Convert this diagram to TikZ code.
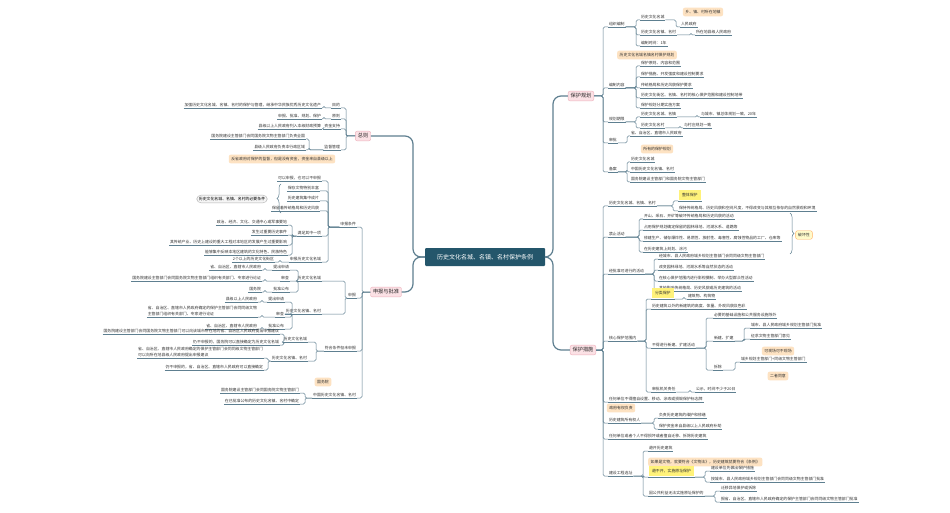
\documentclass[tikz,border=0pt]{standalone}
\usepackage{fontspec}
\setmainfont{Noto Sans CJK SC}
\usetikzlibrary{calc,decorations.pathreplacing}
\definecolor{lnc}{HTML}{5E7F90}
\definecolor{ctr}{HTML}{24566B}
\definecolor{pk}{HTML}{FBE1E5}
\definecolor{pkd}{HTML}{EFB3BE}
\definecolor{org}{HTML}{FDE2C2}
\definecolor{yel}{HTML}{FFF27A}
\tikzset{
 it/.style={font=\fontsize{3.9}{4.6}\selectfont,inner sep=0.8pt,text=black!80},
 ln/.style={draw=lnc,line width=0.5pt,rounded corners=1.5pt},
 main/.style={draw=lnc,line width=1.2pt,rounded corners=8pt},
 br/.style={fill=pk,draw=pkd,rounded corners=2pt,font=\fontsize{5.2}{6}\selectfont,inner sep=2.5pt,text=black!85},
 co/.style={fill=org,rounded corners=2pt,font=\fontsize{3.9}{4.6}\selectfont,inner sep=2.5pt,text=black!80},
}
\newcommand\itR[4]{\node[it,anchor=south west] (#1) at (#2,#3) {#4}; \draw[ln] (#1.south west)--(#1.south east);}
\newcommand\itL[4]{\node[it,anchor=south east] (#1) at (#2,#3) {#4}; \draw[ln] (#1.south west)--(#1.south east);}
\newcommand\conR[3]{\draw[ln] let \p1=(#1) in (\p1) -- (#3pt,\y1) |- (#2.south west);}
\newcommand\conL[3]{\draw[ln] let \p1=(#1) in (\p1) -- (#3pt,\y1) |- (#2.south east);}
\begin{document}
\begin{tikzpicture}[x=1pt,y=-1pt]
\useasboundingbox (0,0) rectangle (950,513);
\fill[white] (0,0) rectangle (950,513);
% center and branches
\node[fill=ctr,text=white,minimum width=120pt,minimum height=18pt,font=\fontsize{6}{7}\selectfont,rounded corners=1pt] (root) at (485,257) {历史文化名城、名镇、名村保护条例};
\node[br] (gh) at (581,96) {保护规划};
\node[br] (bh) at (583,350) {保护措施};
\node[br] (zz) at (363,136) {总则};
\node[br] (sb) at (386,292) {申报与批准};
\draw[main] (root.east) -- (553,257) |- (gh.west);
\draw[main] (root.east) -- (553,257) |- (bh.west);
\draw[main] (root.west) -- (413,257) |- (zz.east);
\draw[main] (root.west) -- (413,257) |- (sb.east);

% ===== 保护规划
\itR{a1}{608}{27}{组织编制}
\itR{a2}{608}{88}{编制内容}
\itR{a3}{608}{122}{规划期限}
\itR{a4}{608}{143}{审批}
\itR{a5}{608}{172}{备案}
\foreach \c in {a1,a2,a3,a4,a5}{\conR{gh.east}{\c}{603}}
\itR{a11}{640}{20}{历史文化名城}
\itR{a111}{680}{27}{人民政府}
\node[co] (c1) at (703,12) {乡、镇、村所在地镇};
\itR{a12}{640}{35}{历史文化名镇、名村}
\itR{a121}{695}{35}{所在地县级人民政府}
\itR{a13}{640}{46}{编制时间：1年}
\foreach \c in {a11,a12,a13}{\conR{a1.south east}{\c}{636}}
\conR{a11.south east}{a111}{676}
\conR{a12.south east}{a121}{691}
\node[co] (c2) at (647,55) {历史文化名城名镇名村保护规划};
\itR{a21}{640}{66}{保护原则、内容和范围}
\itR{a22}{640}{77}{保护措施、开发强度和建设控制要求}
\itR{a23}{640}{88}{传统格局和历史风貌保护要求}
\itR{a24}{640}{98}{历史文化街区、名镇、名村的核心保护范围和建设控制地带}
\itR{a25}{640}{108}{保护规划分期实施方案}
\foreach \c in {a21,a22,a23,a24,a25}{\conR{a2.south east}{\c}{636}}
\itR{a31}{640}{117}{历史文化名城、名镇}
\itR{a311}{700}{117}{与城市、镇总体规划一致，20年}
\itR{a32}{640}{128}{历史文化名村}
\itR{a321}{683}{128}{与村庄规划一致}
\foreach \c in {a31,a32}{\conR{a3.south east}{\c}{636}}
\conR{a31.south east}{a311}{697}
\conR{a32.south east}{a321}{680}
\itR{a41}{630}{136}{省、自治区、直辖市人民政府}
\conR{a4.south east}{a41}{627}
\node[co] (c3) at (657,149) {所有的保护规划};
\itR{a51}{630}{162}{历史文化名城}
\itR{a52}{630}{172}{中国历史文化名镇、名村}
\itR{a53}{630}{182}{国务院建设主管部门和国务院文物主管部门}
\foreach \c in {a51,a52,a53}{\conR{a5.south east}{\c}{627}}

% ===== 保护措施
\itR{b1}{608}{206}{历史文化名城、名镇、名村}
\itR{b2}{608}{237}{禁止活动}
\itR{b3}{608}{274}{经批准可进行的活动}
\itR{b4}{608}{341}{核心保护范围内}
\itR{b5}{608}{402}{任何单位不得擅自设置、移动、涂改或损毁保护标志牌}
\itR{b6}{608}{423}{历史建筑所有权人}
\itR{b7}{608}{439}{任何单位或者个人不得损坏或者擅自迁移、拆除历史建筑}
\itR{b8}{608}{476}{建设工程选址}
\foreach \c in {b1,b2,b3,b4,b5,b6,b7,b8}{\conR{bh.east}{\c}{603}}
\itR{b11}{678}{201}{\colorbox{yel}{整体保护}}
\itR{b12}{678}{211}{保持传统格局、历史风貌和空间尺度，不得改变与其相互依存的自然景观和环境}
\foreach \c in {b11,b12}{\conR{b1.south east}{\c}{673}}
\itR{b21}{643}{219}{开山、采石、开矿等破坏传统格局和历史风貌的活动}
\itR{b22}{643}{230}{占用保护规划确定保留的园林绿地、河湖水系、道路等}
\itR{b23}{643}{241}{修建生产、储存爆炸性、易燃性、放射性、毒害性、腐蚀性物品的工厂、仓库等}
\itR{b24}{643}{252}{在历史建筑上刻划、涂污}
\foreach \c in {b21,b22,b23,b24}{\conR{b2.south east}{\c}{639}}
\draw[lnc,line width=0.5pt,decorate,decoration={brace,amplitude=4pt}] (790,213) -- (790,254);
\node[co,fill=yel!40,draw=orange!60] (c4) at (804,235) {破坏性};
\itR{b31}{658}{259}{经城市、县人民政府城乡规划主管部门会同同级文物主管部门}
\itR{b32}{658}{270}{改变园林绿地、河湖水系等自然状态的活动}
\itR{b33}{658}{281}{在核心保护范围内进行影视摄制、举办大型群众性活动}
\itR{b34}{658}{291}{其他影响传统格局、历史风貌或历史建筑的活动}
\foreach \c in {b31,b32,b33,b34}{\conR{b3.south east}{\c}{654}}
\itR{b41}{651}{299}{\colorbox{yel}{分类保护}}
\itR{b411}{687}{299}{建筑物、构筑物}
\conR{b41.south east}{b411}{684}
\itR{b42}{651}{309}{历史建筑以外的新建筑的高度、体量、外观风貌及色彩}
\itR{b43}{651}{348}{不得进行新建、扩建活动}
\itR{b44}{651}{392}{审批机关责任}
\itR{b441}{695}{392}{公示，时间不少于20日}
\conR{b44.south east}{b441}{690}
\foreach \c in {b41,b42,b43,b44}{\conR{b4.south east}{\c}{646}}
\itR{b431}{713}{318}{必要的基础设施和公共服务设施除外}
\itR{b432}{713}{341}{新建、扩建}
\itR{b433}{713}{370}{拆除}
\foreach \c in {b431,b432,b433}{\conR{b43.south east}{\c}{706}}
\itR{b4321}{750}{328}{城市、县人民政府城乡规划主管部门批准}
\itR{b4322}{750}{339}{征求文物主管部门意见}
\foreach \c in {b4321,b4322}{\conR{b432.south east}{\c}{744}}
\node[co] (c5) at (778,351) {可现场可不现场};
\itR{b4331}{740}{362}{城乡规划主管部门+同级文物主管部门}
\conR{b433.south east}{b4331}{735}
\node[co] (c6) at (778,376) {二者同意};
\node[co] (c7) at (621,408) {政府有权负责};
\itR{b61}{658}{418}{负责历史建筑的维护和修缮}
\itR{b62}{658}{429}{保护资金来自县级以上人民政府补助}
\foreach \c in {b61,b62}{\conR{b6.south east}{\c}{654}}
\itR{b81}{648}{451}{避开历史建筑}
\node[co,anchor=west] (c8) at (648,462) {如果是文物，就要符合《文物法》，历史建筑就要符合《条例》};
\itR{b82}{648}{477}{\colorbox{yel}{避不开，实施原址保护}}
\itR{b83}{648}{496}{因公共利益无法实施原址保护的}
\foreach \c in {b81,b82,b83}{\conR{b8.south east}{\c}{643}}
\itR{b821}{710}{471}{建设单位先做出保护措施}
\itR{b822}{710}{482}{按城市、县人民政府城乡规划主管部门会同同级文物主管部门批准}
\foreach \c in {b821,b822}{\conR{b82.south east}{\c}{705}}
\itR{b831}{720}{491}{迁移异地保护或拆除}
\itR{b832}{720}{502}{报省、自治区、直辖市人民政府确定的保护主管部门会同同级文物主管部门批准}
\foreach \c in {b831,b832}{\conR{b83.south east}{\c}{715}}

% ===== 总则
\itL{z1}{341}{108}{目的}
\itL{z2}{341}{119}{原则}
\itL{z3}{341}{129}{资金支持}
\itL{z4}{341}{150}{监督管理}
\foreach \c in {z1,z2,z3,z4}{\conL{zz.west}{\c}{346}}
\itL{z11}{322}{108}{加强历史文化名城、名镇、名村的保护与管理，继承中华民族优秀历史文化遗产}
\conL{z1.south west}{z11}{324}
\itL{z21}{322}{119}{申报、批准、规划、保护}
\conL{z2.south west}{z21}{324}
\itL{z31}{322}{129}{县级以上人民政府列入本级财政预算}
\conL{z3.south west}{z31}{324}
\itL{z41}{306}{139}{国务院建设主管部门会同国务院文物主管部门负责全国}
\itL{z42}{306}{150}{县级人民政府负责本行政区域}
\foreach \c in {z41,z42}{\conL{z4.south west}{\c}{309}}
\node[co] (c9) at (282,159) {反省政府对保护的监督，但是没有资金，资金来自县级以上};

% ===== 申报与批准
\itL{s1}{357}{227}{申报条件}
\itL{s2}{357}{298}{申报}
\itL{s3}{357}{351}{符合条件但未申报}
\itL{s4}{357}{398}{中国历史文化名镇、名村}
\foreach \c in {s1,s2,s3,s4}{\conL{sb.west}{\c}{362}}
\itL{s11}{322}{181}{可以申报，也可以不申报}
\itL{s12}{320}{191}{保存文物特别丰富}
\itL{s13}{320}{201}{历史建筑集中成片}
\itL{s14}{320}{211}{保留着传统格局和历史风貌}
\itL{s15}{322}{236}{满足其中一项}
\itL{s16}{322}{262}{申报历史文化名城}
\foreach \c in {s11,s12,s13,s14,s15,s16}{\conL{s1.south west}{\c}{328}}
\draw[lnc,line width=0.5pt,decorate,decoration={brace,amplitude=4pt}] (281,213) -- (281,184);
\node[draw=gray!60,fill=gray!8,rounded corners=4pt,font=\fontsize{3.9}{4.6}\selectfont,inner sep=2pt] (g1) at (232,199) {历史文化名城、名镇、名村的必要条件};
\itL{s151}{288}{225}{政治、经济、文化、交通中心或军事要地}
\itL{s152}{288}{235}{发生过重要历史事件}
\itL{s153}{288}{245}{其传统产业、历史上建设的重大工程对本地区的发展产生过重要影响}
\itL{s154}{288}{255}{能够集中反映本地区建筑的文化特色、民族特色}
\foreach \c in {s151,s152,s153,s154}{\conL{s15.south west}{\c}{292}}
\itL{s161}{275}{262}{2个以上的历史文化街区}
\conL{s16.south west}{s161}{280}
\itL{s21}{322}{281}{历史文化名城}
\itL{s22}{322}{314}{历史文化名镇、名村}
\foreach \c in {s21,s22}{\conL{s2.south west}{\c}{345}}
\itL{s211}{290}{270}{提出申请}
\itL{s212}{290}{281}{审查}
\itL{s213}{290}{292}{批准公布}
\foreach \c in {s211,s212,s213}{\conL{s21.south west}{\c}{298}}
\itL{s2111}{262}{270}{省、自治区、直辖市人民政府}
\conL{s211.south west}{s2111}{265}
\itL{s2121}{262}{281}{国务院建设主管部门会同国务院文物主管部门组织有关部门、专家进行论证}
\conL{s212.south west}{s2121}{265}
\itL{s2131}{262}{292}{国务院}
\conL{s213.south west}{s2131}{265}
\itL{s221}{285}{302}{提出申请}
\itL{s222}{285}{317}{审查}
\itL{s223}{285}{329}{批准公布}
\foreach \c in {s221,s222,s223}{\conL{s22.south west}{\c}{292}}
\itL{s2211}{258}{302}{县级以上人民政府}
\conL{s221.south west}{s2211}{262}
\itL{s2221}{258}{317}{\shortstack[l]{省、自治区、直辖市人民政府确定的保护主管部门会同同级文物\\主管部门组织有关部门、专家进行论证}}
\conL{s222.south west}{s2221}{262}
\itL{s2231}{258}{329}{省、自治区、直辖市人民政府}
\conL{s223.south west}{s2231}{262}
\itL{s31}{308}{342}{历史文化名城}
\itL{s32}{308}{361}{历史文化名镇、名村}
\foreach \c in {s31,s32}{\conL{s3.south west}{\c}{316}}
\itL{s311}{280}{334}{国务院建设主管部门会同国务院文物主管部门可以向该城市所在地的省、自治区人民政府提出申报建议}
\itL{s312}{280}{345}{仍不申报的，国务院可以直接确定为历史文化名城}
\foreach \c in {s311,s312}{\conL{s31.south west}{\c}{284}}
\itL{s321}{264}{358}{\shortstack[l]{省、自治区、直辖市人民政府确定的保护主管部门会同同级文物主管部门\\可以向所在地县级人民政府提出申报建议}}
\itL{s322}{264}{370}{仍不申报的，省、自治区、直辖市人民政府可以直接确定}
\foreach \c in {s321,s322}{\conL{s32.south west}{\c}{268}}
\node[co] (c10) at (323,382) {国务院};
\itL{s41}{300}{393}{国务院建设主管部门会同国务院文物主管部门}
\itL{s42}{300}{404}{在已批准公布的历史文化名镇、名村中确定}
\foreach \c in {s41,s42}{\conL{s4.south west}{\c}{305}}
\end{tikzpicture}
\end{document}
